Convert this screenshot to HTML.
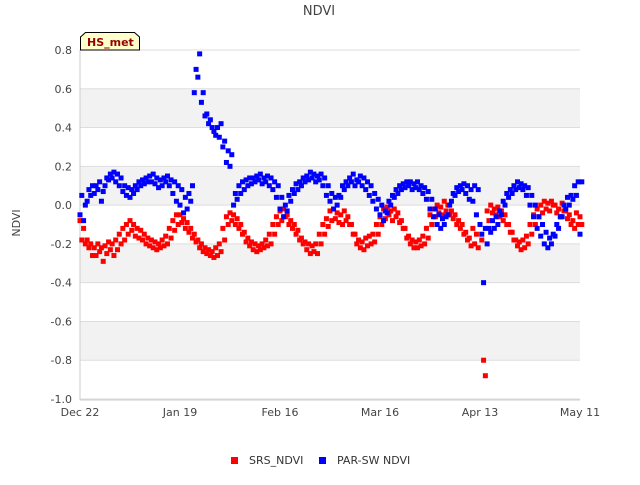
<!DOCTYPE html>
<html><head><meta charset="utf-8"><style>
body{margin:0;background:#fff;font-family:"Liberation Sans",sans-serif;}
svg text{font-family:"DejaVu Sans","Liberation Sans",sans-serif;}
</style></head><body>
<svg id="chart" width="640" height="480">
<rect width="640" height="480" fill="#fff"/>
<text x="319" y="15" text-anchor="middle" font-size="13" fill="#444">NDVI</text>
<g id="bands"></g><g id="grid"></g><g id="yticks"></g><g id="xticks"></g>
<line x1="80" y1="50" x2="80" y2="400" stroke="#ccc"/>
<line x1="80" y1="400" x2="580" y2="400" stroke="#ccc"/>
<g id="marks"></g>
<text x="20" y="223" transform="rotate(-90 20 223)" text-anchor="middle" font-size="11" fill="#444">NDVI</text>
<g>
<path d="M80.5,50 L80.5,37 L85.5,32.5 L134.5,32.5 L139.5,37 L139.5,50 Z" fill="#ffffcc" stroke="#000" stroke-width="1"/>
<text x="87" y="46" font-size="11" font-weight="bold" fill="#990000">HS_met</text>
</g>
<g>
<g><rect x="231" y="457" width="7" height="7" fill="#f00"/><text x="249" y="464" font-size="11" fill="#333">SRS_NDVI</text></g>
<g><rect x="319" y="457" width="7" height="7" fill="#00f"/><text x="337" y="464" font-size="11" fill="#333">PAR-SW NDVI</text></g>
</g>
</svg>
<script>
const yTicks=[0.8,0.6,0.4,0.2,0.0,-0.2,-0.4,-0.6,-0.8,-1.0];
const yTickLabels=["0.8","0.6","0.4","0.2","0.0","-0.2","-0.4","-0.6","-0.8","-1.0"];
const xTickDays=[0,28,56,84,112,140];
const xTickLabels=["Dec 22","Jan 19","Feb 16","Mar 16","Apr 13","May 11"];
// two values per day, day = i/2
const srsVals=[-0.08,-0.18,-0.12,-0.2,-0.18,-0.22,-0.2,-0.26,
-0.22,-0.26,-0.2,-0.24,-0.22,-0.29,-0.21,-0.25,-0.19,-0.23,-0.2,-0.26,-0.18,-0.23,-0.15,-0.2,-0.12,-0.18,
-0.1,-0.15,-0.08,-0.13,-0.1,-0.16,-0.12,-0.17,-0.13,-0.18,-0.15,-0.2,
-0.17,-0.21,-0.18,-0.22,-0.19,-0.23,-0.2,-0.22,-0.18,-0.21,-0.16,-0.2,-0.12,-0.17,-0.08,-0.13,-0.05,-0.1,
-0.05,-0.09,-0.07,-0.12,-0.09,-0.14,-0.12,-0.17,-0.15,-0.19,-0.18,-0.22,
-0.2,-0.24,-0.22,-0.25,-0.23,-0.26,-0.24,-0.27,-0.22,-0.26,-0.2,-0.24,-0.12,-0.18,
-0.06,-0.1,-0.04,-0.08,-0.05,-0.1,-0.07,-0.12,-0.1,-0.15,-0.14,-0.19,-0.17,-0.21,
-0.19,-0.23,-0.2,-0.24,-0.21,-0.23,-0.2,-0.22,-0.18,-0.21,-0.15,-0.2,-0.1,-0.15,-0.06,-0.1,
-0.03,-0.08,-0.02,-0.06,-0.05,-0.1,-0.08,-0.12,-0.1,-0.15,-0.13,-0.18,-0.17,-0.2,
-0.19,-0.23,-0.2,-0.25,-0.21,-0.24,-0.2,-0.25,-0.15,-0.2,-0.1,-0.15,-0.07,-0.11,
-0.03,-0.08,-0.02,-0.07,-0.04,-0.09,-0.05,-0.1,-0.03,-0.08,-0.06,-0.1,-0.1,-0.15,-0.15,-0.2,
-0.18,-0.22,-0.19,-0.23,-0.17,-0.21,-0.16,-0.2,-0.15,-0.19,-0.1,-0.15,-0.06,-0.1,
-0.02,-0.07,-0.01,-0.05,-0.03,-0.08,-0.02,-0.06,-0.04,-0.09,-0.08,-0.12,-0.12,-0.17,
-0.16,-0.2,-0.18,-0.22,-0.19,-0.22,-0.18,-0.21,-0.16,-0.2,-0.12,-0.17,-0.05,-0.1,
-0.02,-0.06,0.0,-0.04,-0.01,-0.05,0.02,-0.03,0.0,-0.05,-0.03,-0.07,-0.05,-0.1,-0.08,-0.12,
-0.1,-0.15,-0.14,-0.18,-0.17,-0.21,-0.12,-0.2,-0.15,-0.22,-0.1,-0.18,-0.8,-0.88,
-0.03,-0.08,0.0,-0.04,-0.02,-0.05,-0.01,-0.06,-0.03,-0.08,-0.05,-0.1,-0.1,-0.14,
-0.14,-0.18,-0.18,-0.21,-0.19,-0.23,-0.18,-0.22,-0.16,-0.2,-0.1,-0.15,-0.05,-0.1,
-0.02,-0.06,0.0,-0.04,0.02,-0.02,0.01,-0.03,0.02,0.0,0.0,-0.04,-0.02,-0.06,0.01,-0.03,
-0.03,-0.07,-0.05,-0.1,-0.08,-0.12,-0.04,-0.1,-0.06,-0.1];
const parVals=[-0.05,0.05,-0.08,0.0,0.02,0.08,0.05,0.1,
0.06,0.1,0.08,0.12,0.02,0.07,0.1,0.14,0.13,0.16,
0.14,0.17,0.12,0.16,0.1,0.14,0.07,0.1,0.05,0.09,
0.04,0.08,0.06,0.1,0.08,0.12,0.1,0.13,0.11,0.14,0.12,0.15,
0.12,0.16,0.11,0.14,0.09,0.13,0.1,0.14,0.12,0.15,0.1,0.13,0.06,0.12,0.02,0.1,
0.0,0.08,-0.04,0.04,-0.02,0.06,0.02,0.1,
0.58,0.7,0.66,0.78,0.53,0.58,
0.46,0.47,0.42,0.44,0.4,0.38,0.36,0.4,0.35,0.42,0.3,0.33,0.22,0.28,0.2,0.26,
0.0,0.06,0.03,0.1,0.06,0.12,0.08,0.13,0.1,0.14,0.11,0.14,
0.12,0.15,0.13,0.16,0.11,0.14,0.12,0.15,0.1,0.14,0.08,0.12,0.04,0.1,
-0.02,0.04,-0.06,0.0,-0.03,0.05,0.02,0.08,0.06,0.11,0.08,0.12,
0.1,0.14,0.12,0.15,0.13,0.17,0.14,0.16,0.12,0.15,0.13,0.16,0.1,0.14,0.05,0.1,0.02,0.06,
-0.02,0.04,0.0,0.05,0.04,0.1,
0.08,0.12,0.1,0.14,0.12,0.16,0.1,0.13,0.12,0.15,0.1,0.14,0.08,0.12,0.05,0.1,0.02,0.06,
-0.02,0.03,-0.05,0.0,-0.08,-0.03,-0.04,0.02,0.0,0.05,
0.04,0.08,0.06,0.1,0.08,0.11,0.09,0.12,0.1,0.12,0.08,0.11,0.09,0.12,0.08,0.1,0.06,0.09,0.03,0.07,
-0.02,0.03,-0.06,-0.02,-0.1,-0.05,-0.12,-0.07,-0.1,-0.06,-0.05,0.0,
0.02,0.06,0.05,0.09,0.07,0.1,0.08,0.11,0.06,0.1,0.03,0.08,0.02,0.1,-0.05,0.08,
-0.1,-0.15,-0.4,-0.12,
-0.2,-0.12,-0.14,-0.08,-0.12,-0.06,-0.1,-0.03,-0.05,0.02,0.0,0.06,0.04,0.08,
0.06,0.1,0.08,0.12,0.09,0.11,0.08,0.1,0.05,0.09,0.0,0.05,-0.06,0.0,
-0.12,-0.06,-0.16,-0.1,-0.2,-0.14,-0.22,-0.17,-0.2,-0.15,-0.16,-0.1,-0.12,-0.06,
-0.06,0.0,-0.02,0.04,0.0,0.05,0.03,0.1,0.05,0.12,-0.15,0.12];
const NS="http://www.w3.org/2000/svg";
const X0=80,X1=580,Y0=50,Y1=399;
function xs(d){return X0+d/140*(X1-X0);}
function ys(v){return Y0+(0.8-v)/1.8*(Y1-Y0);}
function mk(tag,attrs,parent){const e=document.createElementNS(NS,tag);for(const k in attrs)e.setAttribute(k,attrs[k]);document.getElementById(parent).appendChild(e);return e;}
for(let i=0;i<yTicks.length-1;i++){
  if(i%2===1){const b=mk('rect',{x:X0,y:ys(yTicks[i]),width:X1-X0,height:ys(yTicks[i+1])-ys(yTicks[i]),fill:'#f2f2f2'},'bands');
  
  }
}
yTicks.forEach((v,i)=>{
  const g=mk('line',{x1:X0,x2:X1,y1:ys(v),y2:ys(v),stroke:'#ddd'},'grid');
  
  
  const t=mk('text',{x:72,y:ys(v)+4,'text-anchor':'end','font-size':'11',fill:'#444'},'yticks');
  t.textContent=yTickLabels[i];
  
  
});
xTickDays.forEach((d,i)=>{
  const t=mk('text',{x:xs(d),y:416,'text-anchor':'middle','font-size':'11',fill:'#444'},'xticks');
  t.textContent=xTickLabels[i];
  
  
});
function plot(vals,color,name){
  vals.forEach((v,i)=>{
    const d=i/2;
    const r=mk('rect',{x:xs(d)-2.5,y:ys(v)-2.5,width:5,height:5,fill:color},'marks');
    
    
  });
}
plot(srsVals,'#f00','srs-point');
plot(parVals,'#00f','par-point');
</script>
</body></html>
